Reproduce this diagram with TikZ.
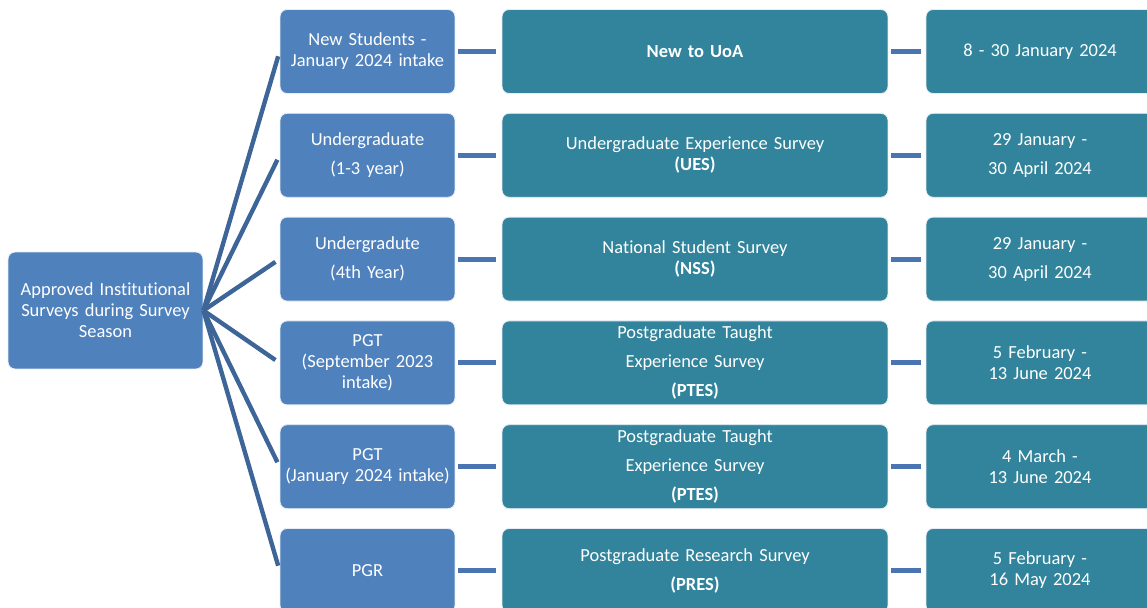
\documentclass[tikz,border=0pt]{standalone}
\usepackage{fontspec}
\setmainfont{Carlito}[Ligatures={NoCommon}]
\usepackage{xcolor}
\usepackage{tikz}
\usetikzlibrary{positioning}

\definecolor{grpblue}{HTML}{4F81BD}
\definecolor{svyteal}{HTML}{31849B}
\definecolor{fanblue}{HTML}{3D6598}
\definecolor{linkblue}{HTML}{4A74B2}

\begin{document}
\begin{tikzpicture}[
  x=0.02cm,
  y=-0.02cm,
  font=\fontsize{10.5}{12}\selectfont,
  box/.style={rounded corners=4pt, draw=white!85!grpblue, line width=0.5pt,
    text=white, align=center, inner sep=0pt},
  rootbox/.style={box, fill=grpblue, minimum width=3.9cm, minimum height=2.34cm, text width=3.7cm},
  grpbox/.style={box, fill=grpblue, minimum width=3.5cm, minimum height=1.68cm, text width=3.4cm},
  svybox/.style={box, fill=svyteal, minimum width=7.72cm, minimum height=1.68cm, text width=7.4cm},
  datebox/.style={box, fill=svyteal, minimum width=4.56cm, minimum height=1.68cm, text width=4.3cm},
  fan/.style={draw=fanblue, line width=2.5pt, shorten >=0.1cm},
  link/.style={draw=linkblue, line width=2.8pt}
]
  \useasboundingbox (0,0) rectangle (1147,608);

  \node[rootbox] (root) at (105.5,310.5) {Approved Institutional\\Surveys during Survey\\Season};

  % student groups
  \node[grpbox] (grp1) at (367.5,51.5) {New Students -\\January 2024 intake};
  \node[grpbox] (grp2) at (367.5,155.3) {Undergraduate\\[4.5pt](1-3 year)};
  \node[grpbox] (grp3) at (367.5,259.1) {Undergradute\\[4.5pt](4th Year)};
  \node[grpbox] (grp4) at (367.5,362.9) {PGT\\(September 2023\\intake)};
  \node[grpbox] (grp5) at (367.5,466.7) {PGT\\(January 2024 intake)};
  \node[grpbox] (grp6) at (367.5,570.5) {PGR};

  % surveys
  \node[svybox] (svy1) at (695,51.5) {\textbf{New to UoA}};
  \node[svybox] (svy2) at (695,155.3) {Undergraduate Experience Survey\\\textbf{(UES)}};
  \node[svybox] (svy3) at (695,259.1) {National Student Survey\\\textbf{(NSS)}};
  \node[svybox] (svy4) at (695,362.9) {Postgraduate Taught\\[4.5pt]Experience Survey\\[4.5pt]\textbf{(PTES)}};
  \node[svybox] (svy5) at (695,466.7) {Postgraduate Taught\\[4.5pt]Experience Survey\\[4.5pt]\textbf{(PTES)}};
  \node[svybox] (svy6) at (695,570.5) {Postgraduate Research Survey\\[4.5pt]\textbf{(PRES)}};

  % survey windows
  \node[datebox] (date1) at (1040,51.5) {8 - 30 January 2024};
  \node[datebox] (date2) at (1040,155.3) {29 January -\\[4.5pt]30 April 2024};
  \node[datebox] (date3) at (1040,259.1) {29 January -\\[4.5pt]30 April 2024};
  \node[datebox] (date4) at (1040,362.9) {5 February -\\13 June 2024};
  \node[datebox] (date5) at (1040,466.7) {4 March -\\13 June 2024};
  \node[datebox] (date6) at (1040,570.5) {5 February -\\16 May 2024};

  \foreach \i in {1,...,6} {
    \draw[fan] (root.east) -- (grp\i.west);
    \draw[link, shorten <=0.06cm, shorten >=0.12cm] (grp\i) -- (svy\i);
    \draw[link, shorten <=0.06cm, shorten >=0.1cm] (svy\i) -- (date\i);
  }
\end{tikzpicture}
\end{document}
